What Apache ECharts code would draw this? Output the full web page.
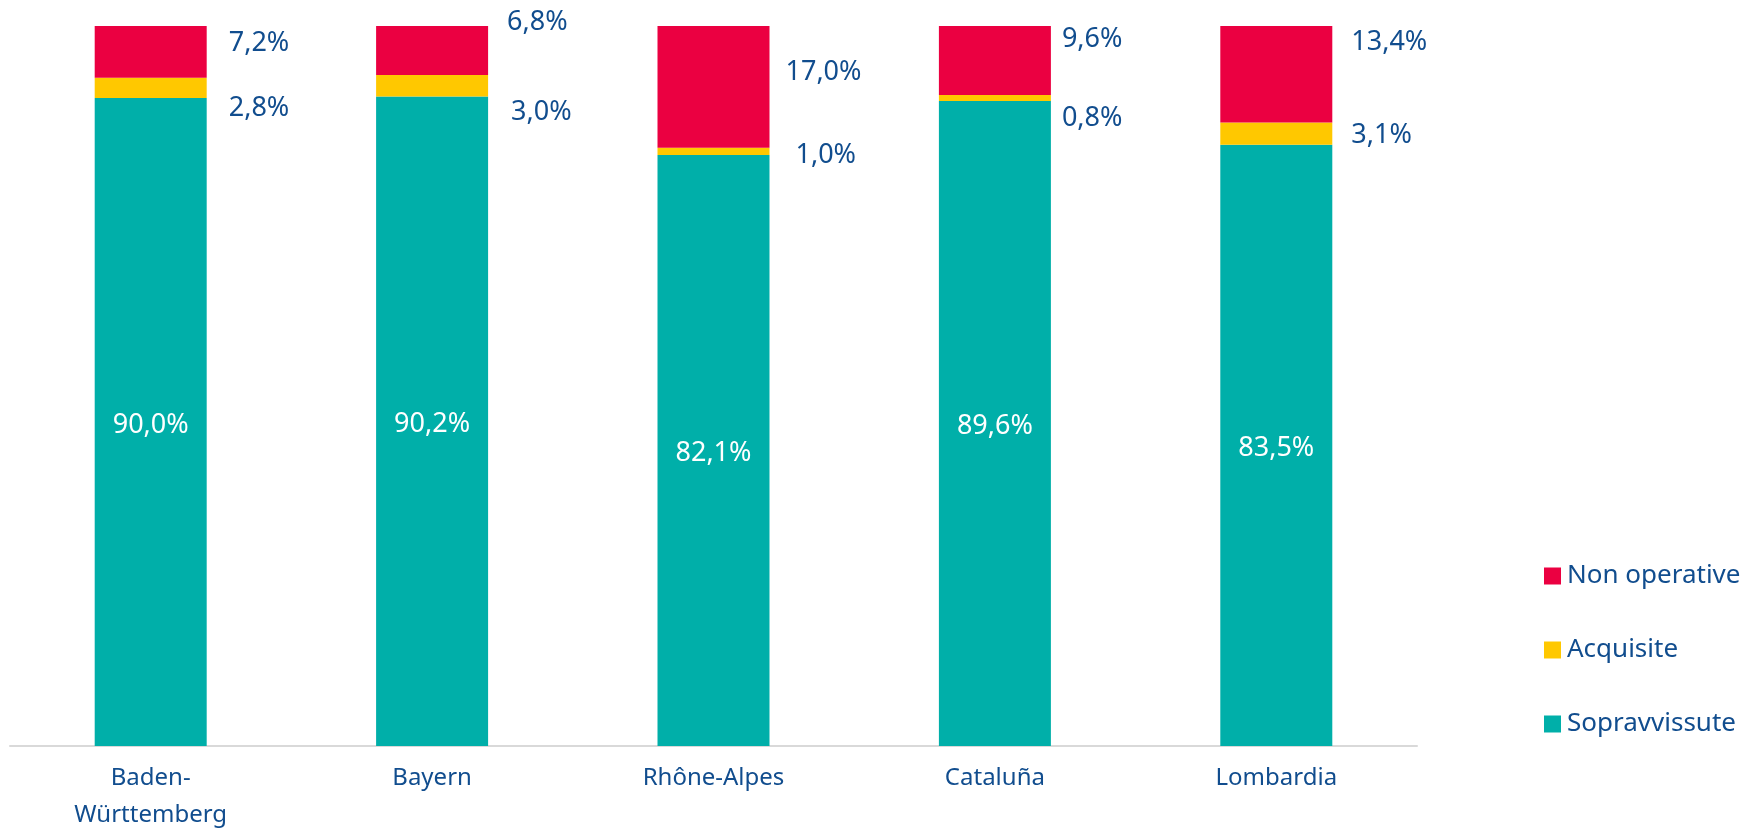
<!DOCTYPE html>
<html>
<head>
<meta charset="utf-8">
<script src="https://cdn.jsdelivr.net/npm/echarts@6/dist/echarts.min.js"></script>
<style>
  html, body { margin: 0; padding: 0; background: #fff; }
  #chart { width: 1747px; height: 830px; }
</style>
</head>
<body>
<div id="chart"></div>
<script>
  // categories and values (percent)
  const categories = ['Baden-\nWürttemberg', 'Bayern', 'Rhône-Alpes', 'Cataluña', 'Lombardia'];
  const sopravvissute = [90.0, 90.2, 82.1, 89.6, 83.5];
  const acquisite = [2.8, 3.0, 1.0, 0.8, 3.1];
  const nonOperative = [7.2, 6.8, 17.0, 9.6, 13.4];
  const legendOrder = ['Non operative', 'Acquisite', 'Sopravvissute'];

  // label nudges [dx, dy] for the outside labels (hand placed in the original)
  const acquisiteLabelShift = [[22, 20], [23, 27], [26, 4], [11, 20], [19, 2]];
  const nonOpLabelShift = [[22, -9], [19, -28], [16, -15], [11, -21], [19, -32]];

  const blue = '#114d8e';
  const font = 'Noto Sans';

  const fmt = v => v.toFixed(1).replace('.', ',') + '%';

  function outside(values, shifts) {
    return values.map((v, i) => ({
      value: v,
      label: { offset: shifts[i] }
    }));
  }

  const chart = echarts.init(document.getElementById('chart'));
  chart.setOption({
    backgroundColor: '#ffffff',
    animation: false,
    textStyle: { fontFamily: font },
    grid: {
      left: 10,
      right: 330,
      top: 26,
      bottom: 84,
      outerBoundsMode: 'none'
    },
    legend: {
      orient: 'vertical',
      left: 1539,
      top: 556,
      data: legendOrder,
      icon: 'rect',
      itemWidth: 17,
      itemHeight: 17,
      itemGap: 44,
      textStyle: {
        color: blue,
        fontSize: 26,
        lineHeight: 30,
        padding: [0, 0, 0, 1]
      }
    },
    xAxis: {
      type: 'category',
      data: categories,
      axisLine: { lineStyle: { color: '#d9d9d9', width: 2 } },
      axisTick: { show: false },
      axisLabel: {
        color: blue,
        fontSize: 24,
        lineHeight: 37,
        margin: 14,
        interval: 0
      }
    },
    yAxis: {
      type: 'value',
      min: 0,
      max: 100,
      show: false
    },
    series: [{
      name: 'Sopravvissute',
      type: 'bar',
      stack: 'tot',
      barWidth: 112,
      itemStyle: { color: '#00afa9' },
      label: {
        show: true,
        position: 'inside',
        offset: [0, 3],
        color: '#ffffff',
        fontSize: 27,
        formatter: p => fmt(p.value)
      },
      data: sopravvissute
    }, {
      name: 'Acquisite',
      type: 'bar',
      stack: 'tot',
      itemStyle: { color: '#ffc800' },
      label: {
        show: true,
        position: 'right',
        distance: 0,
        color: blue,
        fontSize: 27,
        formatter: p => fmt(p.value)
      },
      data: outside(acquisite, acquisiteLabelShift)
    }, {
      name: 'Non operative',
      type: 'bar',
      stack: 'tot',
      itemStyle: { color: '#eb0041' },
      label: {
        show: true,
        position: 'right',
        distance: 0,
        color: blue,
        fontSize: 27,
        formatter: p => fmt(p.value)
      },
      data: outside(nonOperative, nonOpLabelShift)
    }]
  });
</script>
</body>
</html>
